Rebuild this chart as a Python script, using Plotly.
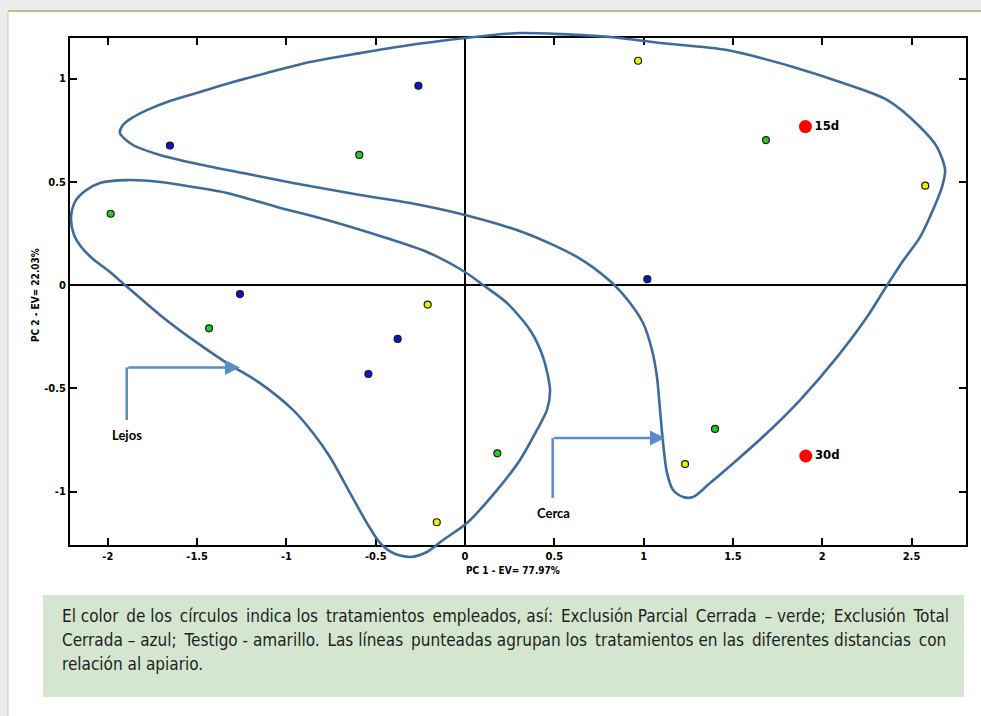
import plotly.graph_objects as go

# ---------------- data ----------------
blue_x = [-0.261, -1.652, -1.260, -0.377, -0.541, 1.021]
blue_y = [0.965, 0.675, -0.044, -0.261, -0.431, 0.028]

green_x = [-0.592, -1.984, -1.433, 0.181, 1.685, 1.400]
green_y = [0.630, 0.345, -0.210, -0.815, 0.702, -0.697]

yellow_x = [0.969, 2.577, -0.209, -0.158, 1.232]
yellow_y = [1.086, 0.481, -0.095, -1.149, -0.867]

red_x = [1.906, 1.908]
red_y = [0.767, -0.828]
red_labels = ["15d", "30d"]

cerca_x = [-1.932, -1.915, -1.865, -1.781, -1.652, -1.484, -1.299, -1.109, -0.868, -0.588,
           -0.308, 0.000, 0.157, 0.308, 0.532, 0.812, 1.092, 1.467, 1.837, 2.116,
           2.363, 2.548, 2.643, 2.688, 2.671, 2.620, 2.548, 2.452, 2.357, 2.251,
           2.083, 1.876, 1.691, 1.523, 1.372, 1.277, 1.221, 1.165, 1.131, 1.109,
           1.092, 1.075, 1.047, 0.997, 0.924, 0.812, 0.627, 0.336, 0.000, -0.308,
           -0.588, -0.963, -1.243, -1.523, -1.708, -1.859, -1.932]
cerca_y = [0.736, 0.775, 0.809, 0.847, 0.891, 0.935, 0.983, 1.027, 1.080, 1.123,
           1.162, 1.196, 1.211, 1.220, 1.215, 1.201, 1.172, 1.138, 1.056, 0.978,
           0.896, 0.765, 0.668, 0.557, 0.475, 0.363, 0.232, 0.116, -0.010, -0.155,
           -0.349, -0.557, -0.717, -0.847, -0.959, -1.027, -1.027, -0.993, -0.910, -0.765,
           -0.605, -0.446, -0.315, -0.184, -0.087, 0.019, 0.136, 0.252, 0.339, 0.397,
           0.436, 0.494, 0.542, 0.591, 0.630, 0.678, 0.736]

lejos_x = [-2.206, -2.184, -2.128, -2.044, -1.893, -1.708, -1.523, -1.333, -1.053, -0.773,
           -0.493, -0.213, 0.000, 0.101, 0.235, 0.364, 0.437, 0.476, 0.459, 0.403,
           0.308, 0.179, 0.011, -0.123, -0.213, -0.308, -0.403, -0.476, -0.549, -0.644,
           -0.756, -0.851, -0.963, -1.148, -1.333, -1.523, -1.708, -1.904, -1.988, -2.083,
           -2.144, -2.189, -2.206]
lejos_y = [0.324, 0.402, 0.455, 0.494, 0.508, 0.499, 0.475, 0.446, 0.378, 0.315,
           0.242, 0.160, 0.063, 0.000, -0.087, -0.218, -0.349, -0.508, -0.605, -0.702,
           -0.847, -0.993, -1.153, -1.235, -1.293, -1.317, -1.298, -1.249, -1.153, -1.007,
           -0.833, -0.717, -0.605, -0.475, -0.378, -0.266, -0.145, 0.000, 0.063, 0.126,
           0.179, 0.242, 0.324]

x_tickvals = [-2, -1.5, -1, -0.5, 0, 0.5, 1, 1.5, 2, 2.5]
x_ticktext = ["-2", "-1.5", "-1", "-0.5", "0", "0.5", "1", "1.5", "2", "2.5"]
y_tickvals = [-1, -0.5, 0, 0.5, 1]
y_ticktext = ["-1", "-0.5", "0", "0.5", "1"]

x_title = "PC 1 - EV= 77.97%"
y_title = "PC 2 - EV= 22.03%"

group_labels = ["Lejos", "Cerca"]
group_label_x = [-1.894, 0.493]
group_label_y = [-0.726, -1.104]
arrow_x0 = [-1.894, 0.491]
arrow_y0 = [-0.654, -1.031]
arrow_x1 = [-1.260, 1.120]
arrow_y1 = [-0.399, -0.741]

caption_lines = [
    "El color de los círculos indica los tratamientos empleados, así: Exclusión Parcial Cerrada – verde; Exclusión Total",
    "Cerrada – azul; Testigo - amarillo. Las líneas punteadas agrupan los tratamientos en las diferentes distancias con",
    "relación al apiario.",
]
# lines 1-2 are justified in the original: number of word gaps that get a thin extra space
caption_extra_gaps = [10, 6, 0]

# ---------------- geometry ----------------
W, H = 981, 716
ML, MR, MT, MB = 50, 6, 20, 140
PW, PH = W - ML - MR, H - MT - MB


def px_x(p):
    return (p - ML) / PW


def px_y(p):
    return (H - MB - p) / PH


# main frame in pixels
fx0, fx1, fy_top, fy_bot = 70, 966, 38, 545
X_ZERO_PX, X_SCALE = 465.0, 178.6
Y_ZERO_PX, Y_SCALE = 285.0, 206.5
x_range = [(fx0 - X_ZERO_PX) / X_SCALE, (fx1 - X_ZERO_PX) / X_SCALE]
y_range = [(Y_ZERO_PX - fy_bot) / Y_SCALE, (Y_ZERO_PX - fy_top) / Y_SCALE]
x_dom = [px_x(fx0), px_x(fx1)]
y_dom = [px_y(fy_bot), px_y(fy_top)]


def extend(rng, dom):
    s = (rng[1] - rng[0]) / (dom[1] - dom[0])
    return [rng[0] - dom[0] * s, rng[1] + (1 - dom[1]) * s]


x2_range = extend(x_range, x_dom)
y2_range = extend(y_range, y_dom)

NARROW = "Liberation Sans Narrow, Arial Narrow, DejaVu Sans Condensed, sans-serif"
CURVE = "#3f6b9c"
ARROW = "#5b8cc8"

fig = go.Figure()

# group outlines
for cx, cy in ((cerca_x, cerca_y), (lejos_x, lejos_y)):
    fig.add_trace(go.Scatter(x=cx, y=cy, mode="lines",
                             line=dict(color=CURVE, width=2.6, shape="spline", smoothing=0.8),
                             xaxis="x2", yaxis="y2", hoverinfo="skip", showlegend=False))

# arrow stems
for i in range(len(arrow_x0)):
    fig.add_trace(go.Scatter(x=[arrow_x0[i], arrow_x0[i]], y=[arrow_y0[i], arrow_y1[i]], mode="lines",
                             line=dict(color=ARROW, width=2.5), xaxis="x2", yaxis="y2",
                             hoverinfo="skip", showlegend=False))

# points
mk_line = dict(color="#1a1a1a", width=1.2)
fig.add_trace(go.Scatter(x=green_x, y=green_y, mode="markers", xaxis="x2", yaxis="y2",
                         marker=dict(size=7, color="#22cc22", line=mk_line), showlegend=False))
fig.add_trace(go.Scatter(x=blue_x, y=blue_y, mode="markers", xaxis="x2", yaxis="y2",
                         marker=dict(size=7, color="#0a14c8", line=mk_line), showlegend=False))
fig.add_trace(go.Scatter(x=yellow_x, y=yellow_y, mode="markers", xaxis="x2", yaxis="y2",
                         marker=dict(size=7, color="#eeee00", line=mk_line), showlegend=False))
fig.add_trace(go.Scatter(x=red_x, y=red_y, mode="markers+text", xaxis="x2", yaxis="y2",
                         marker=dict(size=13, color="#ff0000"), text=red_labels,
                         textposition="middle right",
                         textfont=dict(family=NARROW, size=13, color="black", weight="bold"),
                         cliponaxis=False, showlegend=False))

axis_common = dict(showline=True, linecolor="black", linewidth=2, mirror="ticks",
                   ticks="inside", ticklen=7, tickwidth=2, tickcolor="black",
                   showgrid=False, zeroline=True, zerolinecolor="black", zerolinewidth=2,
                   tickfont=dict(family=NARROW, size=11, color="black", weight="bold"),
                   fixedrange=True)

fig.update_layout(
    width=W, height=H,
    margin=dict(l=ML, r=MR, t=MT, b=MB, pad=0),
    paper_bgcolor="#ececec",
    plot_bgcolor="rgba(0,0,0,0)",
    xaxis=dict(domain=x_dom, range=x_range, anchor="y", tickvals=x_tickvals, ticktext=x_ticktext, **axis_common),
    yaxis=dict(domain=y_dom, range=y_range, anchor="x", tickvals=y_tickvals, ticktext=y_ticktext, **axis_common),
    xaxis2=dict(domain=[0, 1], range=x2_range, anchor="y2", visible=False, fixedrange=True),
    yaxis2=dict(domain=[0, 1], range=y2_range, anchor="x2", visible=False, fixedrange=True),
    showlegend=False,
)

shapes = [
    # white panel with border
    dict(type="rect", xref="paper", yref="paper", x0=px_x(8), x1=px_x(990), y0=px_y(11), y1=px_y(730),
         fillcolor="white", line=dict(width=0), layer="below"),
    dict(type="line", xref="paper", yref="paper", x0=px_x(8), x1=px_x(990), y0=px_y(11), y1=px_y(11),
         line=dict(color="#9cb75e", width=1.5), layer="below"),
    dict(type="line", xref="paper", yref="paper", x0=px_x(8), x1=px_x(8), y0=px_y(11), y1=px_y(730),
         line=dict(color="#c9d0c2", width=1.2), layer="below"),
    # caption box
    dict(type="rect", xref="paper", yref="paper", x0=px_x(43), x1=px_x(964), y0=px_y(697), y1=px_y(595),
         fillcolor="#d4e6cf", line=dict(width=0), layer="below"),
]
fig.update_layout(shapes=shapes)


def justify(line, n_extra):
    words = line.split(" ")
    gaps = len(words) - 1
    out = words[0]
    for k in range(1, len(words)):
        wide = n_extra > 0 and (k * n_extra) // gaps != ((k - 1) * n_extra) // gaps
        out += (" \u2009" if wide else " ") + words[k]
    return out


ann = []
# axis titles
ann.append(dict(xref="paper", yref="paper", x=px_x(513), y=px_y(570), text=x_title, showarrow=False,
                font=dict(family=NARROW, size=10, color="black", weight="bold"), xanchor="center", yanchor="middle"))
ann.append(dict(xref="paper", yref="paper", x=px_x(35), y=px_y(295), text=y_title, showarrow=False, textangle=-90,
                font=dict(family=NARROW, size=10, color="black", weight="bold"), xanchor="center", yanchor="middle"))
# group labels and arrows
for i, lab in enumerate(group_labels):
    ann.append(dict(xref="x", yref="y", x=group_label_x[i], y=group_label_y[i], text=lab, showarrow=False,
                    font=dict(family="Lato, Open Sans, sans-serif", size=13, color="black", weight="bold"),
                    xanchor="center", yanchor="middle"))
    ann.append(dict(xref="x", yref="y", axref="x", ayref="y", x=arrow_x1[i], y=arrow_y1[i],
                    ax=arrow_x0[i], ay=arrow_y1[i], text="", showarrow=True, arrowhead=2,
                    arrowsize=1.2, arrowwidth=2.5, arrowcolor=ARROW, standoff=0, startstandoff=0))
# caption
for i, line in enumerate(caption_lines):
    ann.append(dict(xref="paper", yref="paper", x=px_x(60), y=px_y(616 + 24 * i),
                    text=justify(line, caption_extra_gaps[i]), showarrow=False,
                    font=dict(family=NARROW, size=17, color="#1e1e1e"), xanchor="left", yanchor="middle"))
fig.update_layout(annotations=ann)

fig.write_html("out.html", config={"displayModeBar": False},
               post_script="document.body.style.margin='0px';document.body.style.background='#ececec';")
